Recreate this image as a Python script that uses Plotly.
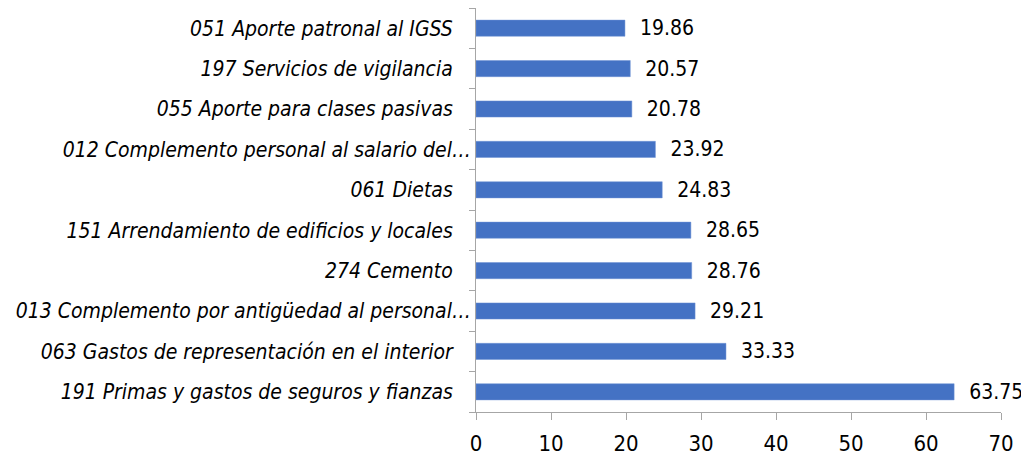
import plotly.graph_objects as go

categories = [
    "191 Primas y gastos de seguros y fianzas",
    "063 Gastos de representación en el interior",
    "013 Complemento por antigüedad al personal…",
    "274 Cemento",
    "151 Arrendamiento de edificios y locales",
    "061 Dietas",
    "012 Complemento personal al salario del…",
    "055 Aporte para clases pasivas",
    "197 Servicios de vigilancia",
    "051 Aporte patronal al IGSS",
]
values = [63.75, 33.33, 29.21, 28.76, 28.65, 24.83, 23.92, 20.78, 20.57, 19.86]
x_ticks = [0, 10, 20, 30, 40, 50, 60, 70]

FONT = "DejaVu Sans Condensed, Liberation Sans Narrow, Liberation Sans, sans-serif"
AXIS_GREY = "#a6a6a6"

# Excel-style padding: full labels sit further from the axis than truncated ones
tick_text = [c if c.endswith("…") else c + "\u00a0" * 3 for c in categories]

fig = go.Figure(
    go.Bar(
        x=values,
        y=categories,
        orientation="h",
        marker=dict(color="#4472C4", line=dict(color="#6f93d4", width=0.5)),
        texttemplate="  %{x:.2f}",
        textposition="outside",
        constraintext="none",
        textfont=dict(family=FONT, size=21, color="#000000"),
        cliponaxis=False,
    )
)
# the page body adds an 8px offset, so margins are shifted to compensate
fig.update_layout(
    width=1029,
    height=458,
    margin=dict(l=468, r=36, t=0, b=54, autoexpand=False),
    paper_bgcolor="white",
    plot_bgcolor="white",
    bargap=0.6,
    showlegend=False,
    font=dict(family=FONT, size=21, color="#000000"),
)
fig.update_xaxes(
    range=[0, 70],
    tickvals=x_ticks,
    ticks="outside",
    ticklen=7,
    tickcolor=AXIS_GREY,
    ticklabelstandoff=5,
    showline=True,
    linecolor=AXIS_GREY,
    linewidth=1,
    showgrid=False,
    zeroline=False,
    automargin=False,
    tickfont=dict(family=FONT, size=22, color="#000000"),
)
fig.update_yaxes(
    tickvals=categories,
    ticktext=tick_text,
    ticks="outside",
    tickson="boundaries",
    ticklen=6,
    tickcolor=AXIS_GREY,
    showline=True,
    linecolor=AXIS_GREY,
    linewidth=1,
    showgrid=False,
    automargin=False,
    tickfont=dict(family=FONT, size=21, color="#000000", style="italic"),
)
fig.write_html("out.html")
